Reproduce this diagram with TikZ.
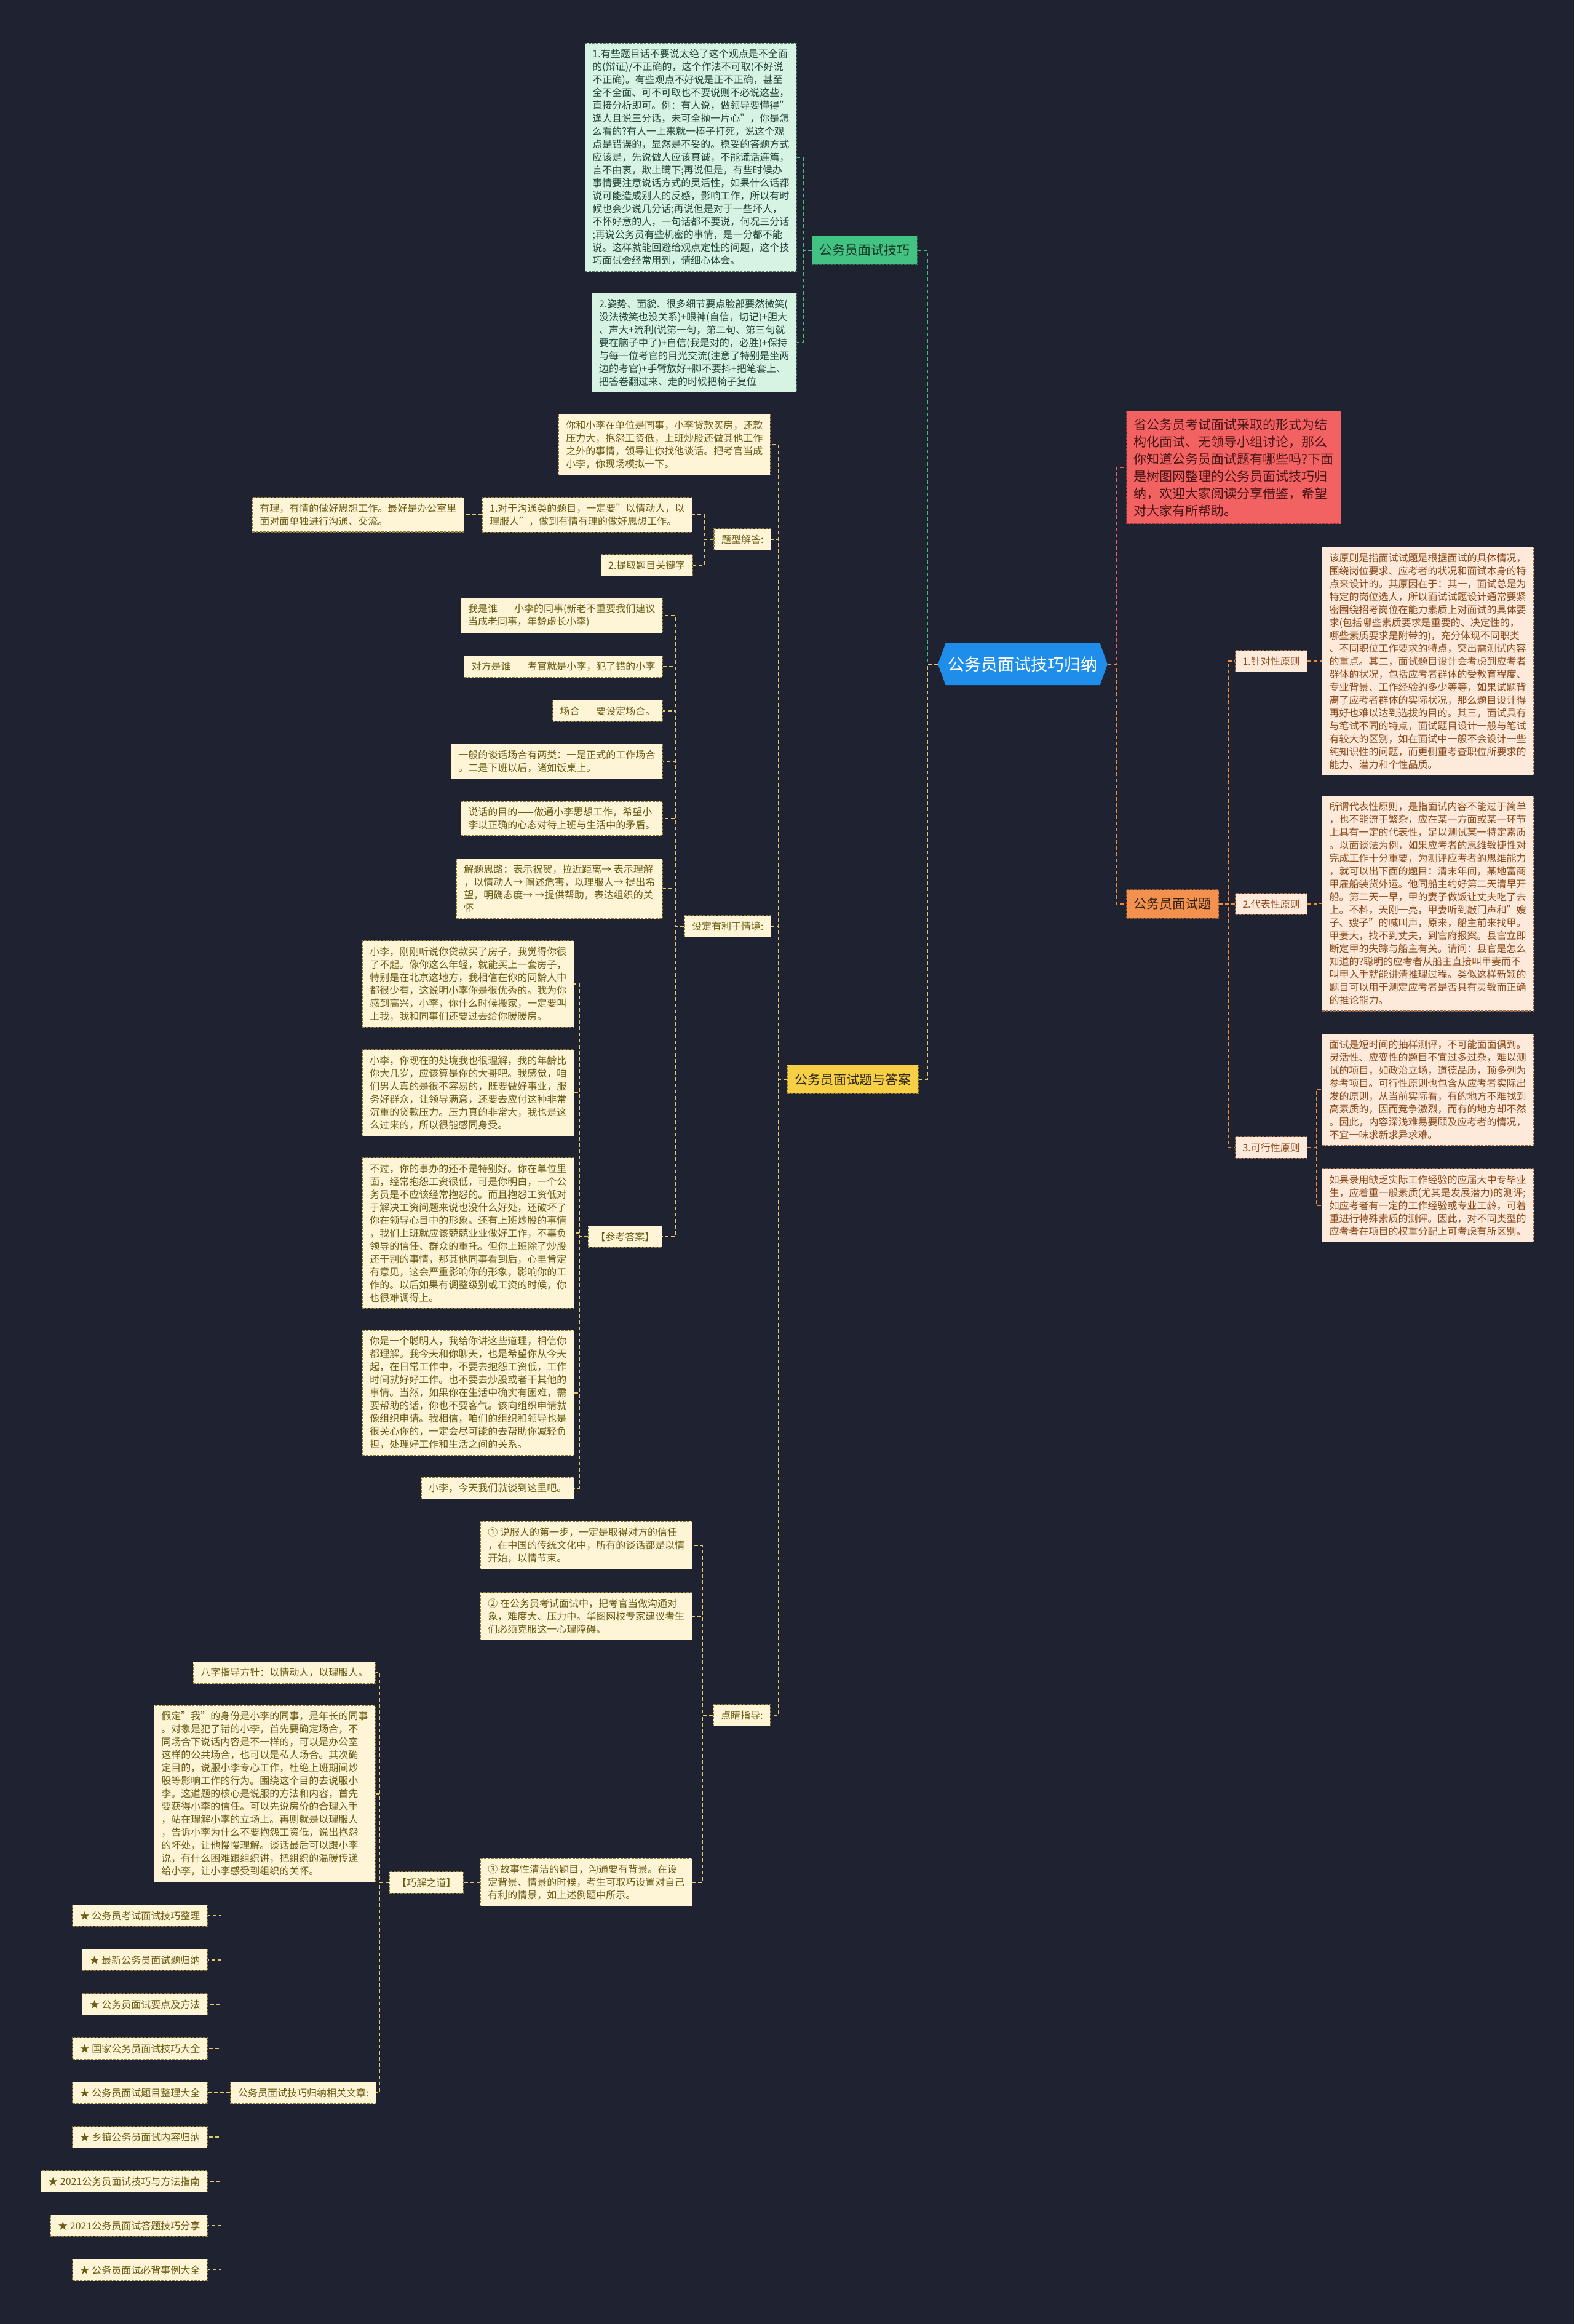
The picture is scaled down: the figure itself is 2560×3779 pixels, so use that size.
\documentclass[tikz,border=0pt]{standalone}
\usepackage{fontspec}
\setmainfont{Noto Sans CJK SC}
\usetikzlibrary{shapes.symbols}
\definecolor{bg}{HTML}{1F2331}
\definecolor{rootc}{HTML}{1E8EEA}
\definecolor{gL}{HTML}{42C283}
\definecolor{gLt}{HTML}{173A28}
\definecolor{gfill}{HTML}{D6F3E3}
\definecolor{gtext}{HTML}{23473A}
\definecolor{gline}{HTML}{4E7A64}
\definecolor{gconn}{HTML}{3DBE7F}
\definecolor{yL}{HTML}{F6CF45}
\definecolor{yLt}{HTML}{2E2614}
\definecolor{yfill}{HTML}{FDF5D6}
\definecolor{ytext}{HTML}{6B5B16}
\definecolor{yline}{HTML}{8C7A3C}
\definecolor{yconn}{HTML}{E2C868}
\definecolor{rfill}{HTML}{F26262}
\definecolor{rtext}{HTML}{4A1515}
\definecolor{rconn}{HTML}{F06060}
\definecolor{oL}{HTML}{F5914F}
\definecolor{oLt}{HTML}{2E2014}
\definecolor{oconn}{HTML}{F08A3C}
\definecolor{pfill}{HTML}{FDEADB}
\definecolor{ptext}{HTML}{8A4A1C}
\definecolor{pline}{HTML}{9C6A48}
\tikzset{
  base/.style={rectangle, draw, dash pattern=on 4pt off 2pt, line width=1.1pt,
    align=left, inner xsep=12pt, inner ysep=10pt, font=\fontsize{16}{21}\selectfont},
  gb/.style={base, fill=gfill, draw=gline, text=gtext},
  yb/.style={base, fill=yfill, draw=yline, text=ytext},
  pb/.style={base, fill=pfill, draw=pline, text=ptext},
  lone/.style={rectangle, draw, dash pattern=on 4pt off 2pt, line width=1.1pt,
    inner xsep=12pt, inner ysep=13.5pt, font=\fontsize{21}{25}\selectfont},
  conn/.style={dash pattern=on 6pt off 4pt, line width=1.8pt},
  gc/.style={conn, draw=gconn},
  yc/.style={conn, draw=yconn},
  rc/.style={conn, draw=rconn},
  oc/.style={conn, draw=oconn},
}
\begin{document}
\begin{tikzpicture}[x=1pt,y=-1pt]
\fill[bg] (0,0) rectangle (2560,3779);
\useasboundingbox (0,0) rectangle (2560,3779);

% root
\node[shape=signal, signal to=west and east, signal pointer angle=140,
  fill=rootc, text=white, inner xsep=4pt, minimum height=68pt,
  font=\fontsize{27}{30}\selectfont] (root) at (1663,1080) {公务员面试技巧归纳};

% ---------- right side ----------
\node[rectangle, draw=rfill!60!black, dash pattern=on 4pt off 2pt, line width=1.1pt,
  fill=rfill, text=rtext, align=left, inner xsep=12pt, inner ysep=12pt,
  font=\fontsize{21}{28}\selectfont, anchor=west] (intro) at (1831,760)
  {省公务员考试面试采取的形式为结\\构化面试、无领导小组讨论，那么\\你知道公务员面试题有哪些吗?下面\\是树图网整理的公务员面试技巧归\\纳，欢迎大家阅读分享借鉴，希望\\对大家有所帮助。};

\node[lone, fill=oL, draw=oL!60!black, text=oLt, anchor=west] (shiti) at (1831,1470) {公务员面试题};

\node[pb, anchor=west] (p1) at (2008,1075) {1.针对性原则};
\node[pb, anchor=west] (p2) at (2008,1470) {2.代表性原则};
\node[pb, anchor=west] (p3) at (2008,1866) {3.可行性原则};

\node[pb, anchor=west] (p1t) at (2149,1075) {该原则是指面试试题是根据面试的具体情况，\\围绕岗位要求、应考者的状况和面试本身的特\\点来设计的。其原因在于：其一，面试总是为\\特定的岗位选人，所以面试试题设计通常要紧\\密围绕招考岗位在能力素质上对面试的具体要\\求(包括哪些素质要求是重要的、决定性的，\\哪些素质要求是附带的)，充分体现不同职类\\、不同职位工作要求的特点，突出需测试内容\\的重点。其二，面试题目设计会考虑到应考者\\群体的状况，包括应考者群体的受教育程度、\\专业背景、工作经验的多少等等，如果试题背\\离了应考者群体的实际状况，那么题目设计得\\再好也难以达到选拔的目的。其三，面试具有\\与笔试不同的特点，面试题目设计一般与笔试\\有较大的区别，如在面试中一般不会设计一些\\纯知识性的问题，而更侧重考查职位所要求的\\能力、潜力和个性品质。};

\node[pb, anchor=west] (p2t) at (2149,1469) {所谓代表性原则，是指面试内容不能过于简单\\，也不能流于繁杂，应在某一方面或某一环节\\上具有一定的代表性，足以测试某一特定素质\\。以面谈法为例，如果应考者的思维敏捷性对\\完成工作十分重要，为测评应考者的思维能力\\，就可以出下面的题目：清末年间，某地富商\\甲雇船装货外运。他同船主约好第二天清早开\\船。第二天一早，甲的妻子做饭让丈夫吃了去\\上。不料，天刚一亮，甲妻听到敲门声和"嫂\\子、嫂子"的喊叫声，原来，船主前来找甲。\\甲妻大，找不到丈夫，到官府报案。县官立即\\断定甲的失踪与船主有关。请问：县官是怎么\\知道的?聪明的应考者从船主直接叫甲妻而不\\叫甲入手就能讲清推理过程。类似这样新颖的\\题目可以用于测定应考者是否具有灵敏而正确\\的推论能力。};

\node[pb, anchor=west] (p3a) at (2149,1772) {面试是短时间的抽样测评，不可能面面俱到。\\灵活性、应变性的题目不宜过多过杂，难以测\\试的项目，如政治立场，道德品质，顶多列为\\参考项目。可行性原则也包含从应考者实际出\\发的原则，从当前实际看，有的地方不难找到\\高素质的，因而竞争激烈，而有的地方却不然\\。因此，内容深浅难易要顾及应考者的情况，\\不宜一味求新求异求难。};

\node[pb, anchor=west] (p3b) at (2149,1960) {如果录用缺乏实际工作经验的应届大中专毕业\\生，应着重一般素质(尤其是发展潜力)的测评;\\如应考者有一定的工作经验或专业工龄，可着\\重进行特殊素质的测评。因此，对不同类型的\\应考者在项目的权重分配上可考虑有所区别。};

% ---------- left: green ----------
\node[lone, fill=gL, draw=gL!60!black, text=gLt, anchor=east] (jq) at (1492,407) {公务员面试技巧};

\node[gb, anchor=east] (g1) at (1296,256) {1.有些题目话不要说太绝了这个观点是不全面\\的(辩证)/不正确的，这个作法不可取(不好说\\不正确)。有些观点不好说是正不正确，甚至\\全不全面、可不可取也不要说则不必说这些，\\直接分析即可。例：有人说，做领导要懂得"\\逢人且说三分话，未可全抛一片心"，你是怎\\么看的?有人一上来就一棒子打死，说这个观\\点是错误的，显然是不妥的。稳妥的答题方式\\应该是，先说做人应该真诚，不能谎话连篇，\\言不由衷，欺上瞒下;再说但是，有些时候办\\事情要注意说话方式的灵活性，如果什么话都\\说可能造成别人的反感，影响工作，所以有时\\候也会少说几分话;再说但是对于一些坏人，\\不怀好意的人，一句话都不要说，何况三分话\\;再说公务员有些机密的事情，是一分都不能\\说。这样就能回避给观点定性的问题，这个技\\巧面试会经常用到，请细心体会。};

\node[gb, anchor=east] (g2) at (1296,557) {2.姿势、面貌、很多细节要点脸部要然微笑(\\没法微笑也没关系)+眼神(自信，切记)+胆大\\、声大+流利(说第一句，第二句、第三句就\\要在脑子中了)+自信(我是对的，必胜)+保持\\与每一位考官的目光交流(注意了特别是坐两\\边的考官)+手臂放好+脚不要抖+把笔套上、\\把答卷翻过来、走的时候把椅子复位};

% ---------- left: yellow ----------
\node[lone, fill=yL, draw=yL!60!black, text=yLt, anchor=east] (da) at (1494,1755) {公务员面试题与答案};

\node[yb, anchor=east] (ni) at (1253,723) {你和小李在单位是同事，小李贷款买房，还款\\压力大，抱怨工资低，上班炒股还做其他工作\\之外的事情，领导让你找他谈话。把考官当成\\小李，你现场模拟一下。};

\node[yb, anchor=east] (tx) at (1254,877) {题型解答:};
\node[yb, anchor=east] (tx1) at (1126,837) {1.对于沟通类的题目，一定要"以情动人，以\\理服人"，做到有情有理的做好思想工作。};
\node[yb, anchor=east] (tx1a) at (755,837) {有理，有情的做好思想工作。最好是办公室里\\面对面单独进行沟通、交流。};
\node[yb, anchor=east] (tx2) at (1127,919) {2.提取题目关键字};

\node[yb, anchor=east] (sd) at (1254,1506) {设定有利于情境:};
\node[yb, anchor=east] (s1) at (1078,1001) {我是谁——小李的同事(新老不重要我们建议\\当成老同事，年龄虚长小李)};
\node[yb, anchor=east] (s2) at (1078,1084) {对方是谁——考官就是小李，犯了错的小李};
\node[yb, anchor=east] (s3) at (1078,1156) {场合——要设定场合。};
\node[yb, anchor=east] (s4) at (1078,1238) {一般的谈话场合有两类：一是正式的工作场合\\。二是下班以后，诸如饭桌上。};
\node[yb, anchor=east] (s5) at (1078,1331) {说话的目的——做通小李思想工作，希望小\\李以正确的心态对待上班与生活中的矛盾。};
\node[yb, anchor=east] (s6) at (1078,1445) {解题思路：表示祝贺，拉近距离→ 表示理解\\，以情动人→ 阐述危害，以理服人→ 提出希\\望，明确态度→ →提供帮助，表达组织的关\\怀};

\node[yb, anchor=east] (ck) at (1077,2011) {【参考答案】};
\node[yb, anchor=east] (a1) at (934,1600) {小李，刚刚听说你贷款买了房子，我觉得你很\\了不起。像你这么年轻，就能买上一套房子，\\特别是在北京这地方，我相信在你的同龄人中\\都很少有，这说明小李你是很优秀的。我为你\\感到高兴，小李，你什么时候搬家，一定要叫\\上我，我和同事们还要过去给你暖暖房。};
\node[yb, anchor=east] (a2) at (934,1777) {小李，你现在的处境我也很理解，我的年龄比\\你大几岁，应该算是你的大哥吧。我感觉，咱\\们男人真的是很不容易的，既要做好事业，服\\务好群众，让领导满意，还要去应付这种非常\\沉重的贷款压力。压力真的非常大，我也是这\\么过来的，所以很能感同身受。};
\node[yb, anchor=east] (a3) at (934,2005) {不过，你的事办的还不是特别好。你在单位里\\面，经常抱怨工资很低，可是你明白，一个公\\务员是不应该经常抱怨的。而且抱怨工资低对\\于解决工资问题来说也没什么好处，还破坏了\\你在领导心目中的形象。还有上班炒股的事情\\，我们上班就应该兢兢业业做好工作，不辜负\\领导的信任、群众的重托。但你上班除了炒股\\还干别的事情，那其他同事看到后，心里肯定\\有意见，这会严重影响你的形象，影响你的工\\作的。以后如果有调整级别或工资的时候，你\\也很难调得上。};
\node[yb, anchor=east] (a4) at (934,2265) {你是一个聪明人，我给你讲这些道理，相信你\\都理解。我今天和你聊天，也是希望你从今天\\起，在日常工作中，不要去抱怨工资低，工作\\时间就好好工作。也不要去炒股或者干其他的\\事情。当然，如果你在生活中确实有困难，需\\要帮助的话，你也不要客气。该向组织申请就\\像组织申请。我相信，咱们的组织和领导也是\\很关心你的，一定会尽可能的去帮助你减轻负\\担，处理好工作和生活之间的关系。};
\node[yb, anchor=east] (a5) at (934,2420) {小李，今天我们就谈到这里吧。};

\node[yb, anchor=east] (dj) at (1253,2789) {点睛指导:};
\node[yb, anchor=east] (d1) at (1126,2513) {① 说服人的第一步，一定是取得对方的信任\\，在中国的传统文化中，所有的谈话都是以情\\开始，以情节束。};
\node[yb, anchor=east] (d2) at (1126,2628) {② 在公务员考试面试中，把考官当做沟通对\\象，难度大、压力中。华图网校专家建议考生\\们必须克服这一心理障碍。};
\node[yb, anchor=east] (d3) at (1126,3061) {③ 故事性清洁的题目，沟通要有背景。在设\\定背景、情景的时候，考生可取巧设置对自己\\有利的情景，如上述例题中所示。};

\node[yb, anchor=east] (qj) at (754,3061) {【巧解之道】};
\node[yb, anchor=east] (q1) at (611,2720) {八字指导方针：以情动人，以理服人。};
\node[yb, anchor=east] (q2) at (611,2917) {假定"我"的身份是小李的同事，是年长的同事\\。对象是犯了错的小李，首先要确定场合，不\\同场合下说话内容是不一样的，可以是办公室\\这样的公共场合，也可以是私人场合。其次确\\定目的，说服小李专心工作，杜绝上班期间炒\\股等影响工作的行为。围绕这个目的去说服小\\李。这道题的核心是说服的方法和内容，首先\\要获得小李的信任。可以先说房价的合理入手\\，站在理解小李的立场上。再则就是以理服人\\，告诉小李为什么不要抱怨工资低，说出抱怨\\的坏处，让他慢慢理解。谈话最后可以跟小李\\说，有什么困难跟组织讲，把组织的温暖传递\\给小李，让小李感受到组织的关怀。};
\node[yb, anchor=east] (q3) at (612,3403) {公务员面试技巧归纳相关文章:};

\node[yb, anchor=east] (r1) at (338,3115) {★ 公务员考试面试技巧整理};
\node[yb, anchor=east] (r2) at (338,3187) {★ 最新公务员面试题归纳};
\node[yb, anchor=east] (r3) at (338,3259) {★ 公务员面试要点及方法};
\node[yb, anchor=east] (r4) at (338,3331) {★ 国家公务员面试技巧大全};
\node[yb, anchor=east] (r5) at (338,3403) {★ 公务员面试题目整理大全};
\node[yb, anchor=east] (r6) at (338,3475) {★ 乡镇公务员面试内容归纳};
\node[yb, anchor=east] (r7) at (338,3547) {★ 2021公务员面试技巧与方法指南};
\node[yb, anchor=east] (r8) at (338,3619) {★ 2021公务员面试答题技巧分享};
\node[yb, anchor=east] (r9) at (338,3691) {★ 公务员面试必背事例大全};

% ---------- connectors ----------
\draw[rc] (root.east) -- ++(14,0) |- (intro.west);
\draw[oc] (root.east) -- ++(14,0) |- (shiti.west);
\foreach \c in {p1,p2,p3} \draw[oc] (shiti.east) -- ++(15,0) |- (\c.west);
\draw[oc] (p1.east) -- ++(14,0) |- (p1t.west);
\draw[oc] (p2.east) -- ++(14,0) |- (p2t.west);
\foreach \c in {p3a,p3b} \draw[oc] (p3.east) -- ++(14,0) |- (\c.west);

\draw[gc] (root.west) -- ++(-17,0) |- (jq.east);
\foreach \c in {g1,g2} \draw[gc] (jq.west) -- ++(-14,0) |- (\c.east);

\draw[yc] (root.west) -- ++(-17,0) |- (da.east);
\foreach \c in {ni,tx,sd,dj} \draw[yc] (da.west) -- ++(-14,0) |- (\c.east);
\foreach \c in {tx1,tx2} \draw[yc] (tx.west) -- ++(-15,0) |- (\c.east);
\draw[yc] (tx1.west) -- (tx1a.east);
\foreach \c in {s1,s2,s3,s4,s5,s6,ck} \draw[yc] (sd.west) -- ++(-14,0) |- (\c.east);
\foreach \c in {a1,a2,a3,a4,a5} \draw[yc] (ck.west) -- ++(-14,0) |- (\c.east);
\foreach \c in {d1,d2,d3} \draw[yc] (dj.west) -- ++(-17,0) |- (\c.east);
\draw[yc] (d3.west) -- (qj.east);
\foreach \c in {q1,q2,q3} \draw[yc] (qj.west) -- ++(-16,0) |- (\c.east);
\foreach \c in {r1,r2,r3,r4,r5,r6,r7,r8,r9} \draw[yc] (q3.west) -- ++(-15,0) |- (\c.east);
\end{tikzpicture}
\end{document}
